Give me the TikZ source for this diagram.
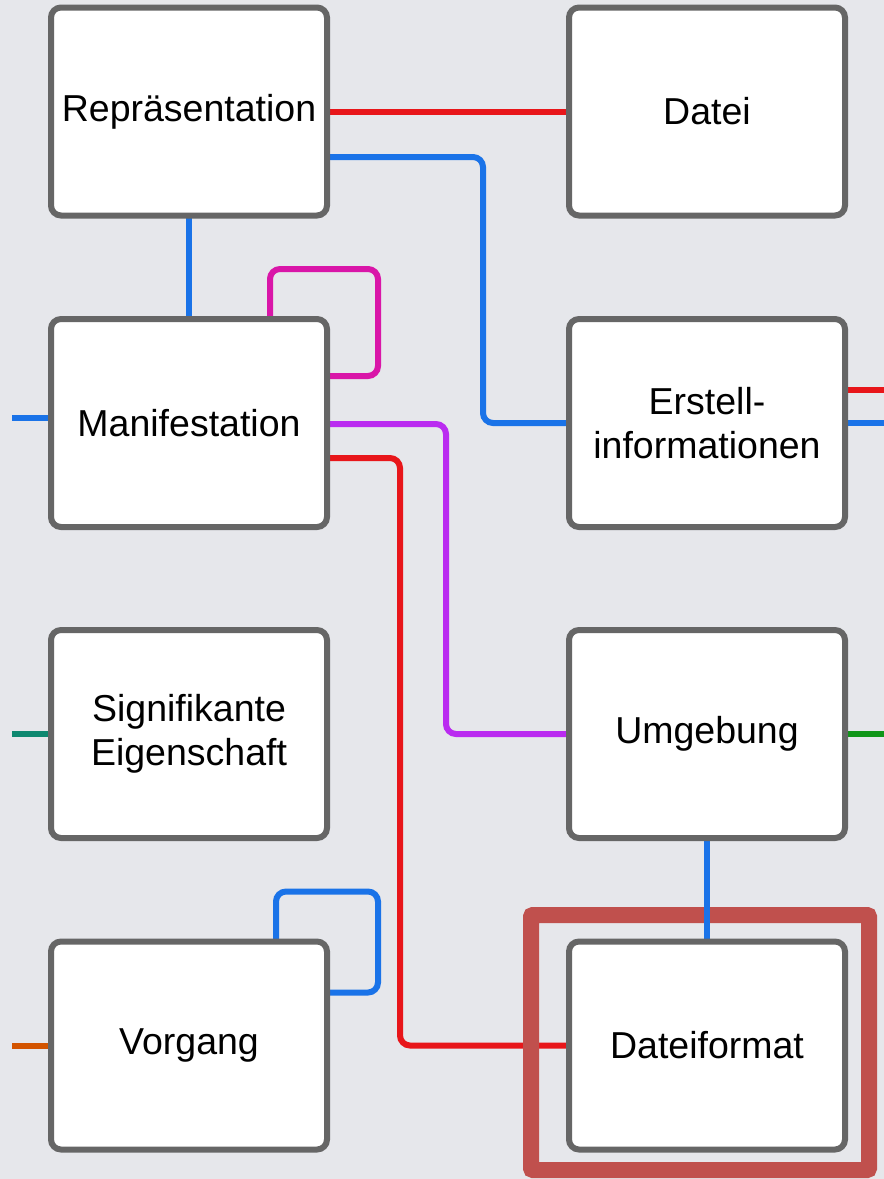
\documentclass[tikz,border=0pt]{standalone}
\usepackage{fontspec}
\setmainfont{Liberation Sans}
\usetikzlibrary{backgrounds}
\definecolor{bg}{HTML}{E6E7EB}
\definecolor{boxgray}{HTML}{666666}
\definecolor{cred}{HTML}{E8161A}
\definecolor{cblue}{HTML}{1A73E8}
\definecolor{cmag}{HTML}{D916A8}
\definecolor{cpur}{HTML}{BA2BF0}
\definecolor{cteal}{HTML}{0E8870}
\definecolor{cgreen}{HTML}{109618}
\definecolor{corange}{HTML}{D35400}
\definecolor{hl}{HTML}{C0504D}
\begin{document}
\begin{tikzpicture}[x=1pt,y=-1pt,
  box/.style={draw=boxgray,line width=6pt,rounded corners=10pt,fill=white,
    minimum width=276pt,minimum height=208pt,inner sep=0pt,outer sep=0pt,align=center,
    font=\fontsize{37.5}{44}\selectfont},
  conn/.style={line width=6pt,rounded corners=10pt},
  hlbox/.style={draw=hl,line width=16pt,rounded corners=2pt}]
\useasboundingbox (0,0) rectangle (884,1179);
\node[box] (rep) at (189,111.5) {Repräsentation};
\node[box] (dat) at (707,111.5) {Datei};
\node[box] (man) at (189,423) {Manifestation};
\node[box] (ers) at (707,423) {Erstell-\\informationen};
\node[box] (sig) at (189,734) {Signifikante\\Eigenschaft};
\node[box] (umg) at (707,734) {Umgebung};
\node[box] (vor) at (189,1045.5) {Vorgang};
\node[box] (dfm) at (707,1045.5) {Dateiformat};
\coordinate (s1) at (12,418);
\coordinate (s2) at (12,734);
\coordinate (s3) at (12,1046);
\coordinate (s4) at (884,390);
\coordinate (s5) at (884,423);
\coordinate (s6) at (884,734);
\coordinate (h1) at (531,915);
\coordinate (h2) at (869,1170);
\begin{scope}[on background layer]
  \fill[bg] (0,0) rectangle (884,1179);
  \draw[conn,cred] (rep.east) -- (dat.west);
  \draw[conn,cblue] ([yshift=-45.5pt]rep.east) -| ([xshift=-86pt]ers.west) -- (ers.west);
  \draw[conn,cblue] (rep.south) -- (man.north);
  \draw[conn,cmag] ([xshift=81pt]man.north) -- ++(0,-50) -- ++(108,0) -- ++(0,107) -- ([yshift=47pt]man.east);
  \draw[conn,cpur] ([yshift=-1pt]man.east) -| ([xshift=-123pt]umg.west) -- (umg.west);
  \draw[conn,cred] ([yshift=-35pt]man.east) -| ([xshift=-169pt]dfm.west) -- (dfm.west);
  \draw[conn,cblue] ([xshift=87pt]vor.north) -- ++(0,-50) -- ++(102,0) -- ++(0,101) -- ([yshift=53pt]vor.east);
  \draw[conn,cblue] (s1) -- (s1 -| man.west);
  \draw[conn,cteal] (s2) -- (s2 -| sig.west);
  \draw[conn,corange] (s3) -- (s3 -| vor.west);
  \draw[conn,cred] (s4) -- (s4 -| ers.east);
  \draw[conn,cblue] (s5) -- (s5 -| ers.east);
  \draw[conn,cgreen] (s6) -- (s6 -| umg.east);
  \draw[hlbox] (h1) rectangle (h2);
  \draw[conn,cblue] (umg.south) -- (dfm.north);
\end{scope}
\end{tikzpicture}
\end{document}
